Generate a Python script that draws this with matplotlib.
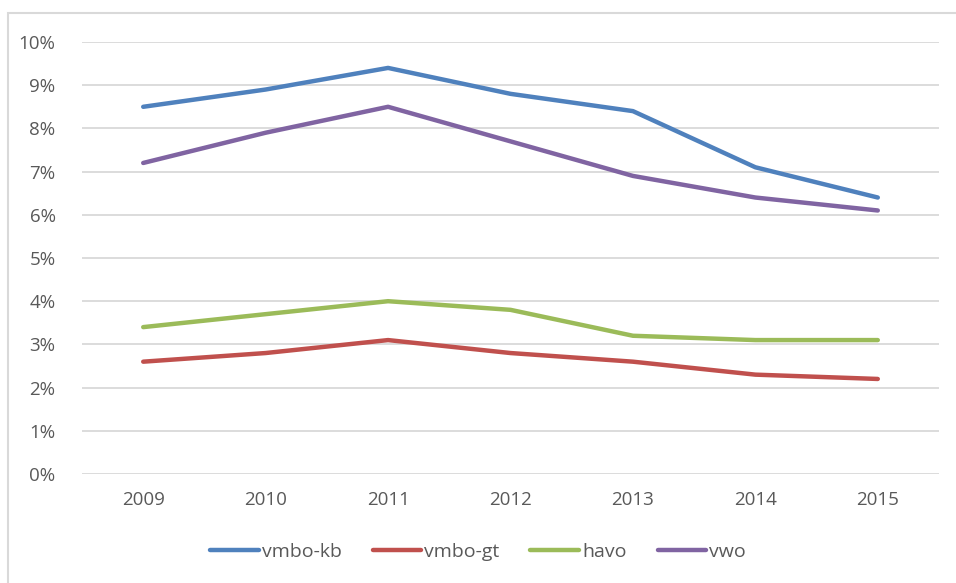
import matplotlib.pyplot as plt
import matplotlib.patches as patches
from matplotlib.ticker import FuncFormatter

years = ['2009', '2010', '2011', '2012', '2013', '2014', '2015']
vmbo_kb = [8.5, 8.9, 9.4, 8.8, 8.4, 7.1, 6.4]
vmbo_gt = [2.6, 2.8, 3.1, 2.8, 2.6, 2.3, 2.2]
havo = [3.4, 3.7, 4.0, 3.8, 3.2, 3.1, 3.1]
vwo = [7.2, 7.9, 8.5, 7.7, 6.9, 6.4, 6.1]

plt.rcParams['font.family'] = ['Open Sans', 'DejaVu Sans']
txt = '#595959'

fig = plt.figure(figsize=(9.56, 5.83), dpi=100)
ax = fig.add_axes([82/956, 1 - 474/583, (939 - 82)/956, (474 - 42)/583])

# light frame around the chart area
fig.patches.append(patches.Rectangle((8/956, -0.05), 1.1, 1 - 13/583 + 0.05,
                                     transform=fig.transFigure, fill=False,
                                     edgecolor='#d9d9d9', linewidth=1.5))

x = range(len(years))
series = [(vmbo_kb, '#4F81BD', 'vmbo-kb'),
          (vmbo_gt, '#C0504D', 'vmbo-gt'),
          (havo, '#9BBB59', 'havo'),
          (vwo, '#8064A2', 'vwo')]
for vals, col, name in series:
    ax.plot(x, vals, color=col, linewidth=3.2, solid_capstyle='round', label=name)

ax.set_xlim(-0.5, len(years) - 0.5)
ax.set_ylim(0, 10)
ax.set_yticks(range(0, 11))
ax.yaxis.set_major_formatter(FuncFormatter(lambda v, p: f'{int(v)}%'))
ax.set_xticks(list(x))
ax.set_xticklabels(years)
ax.grid(axis='y', color='#d9d9d9', linewidth=1.3)
ax.set_axisbelow(True)
for s in ax.spines.values():
    s.set_visible(False)
ax.tick_params(length=0, labelsize=13.5, colors=txt, pad=12)
ax.tick_params(axis='y', pad=19)

fig.legend(loc='center', bbox_to_anchor=(0.5, 1 - 552/583), ncol=4, frameon=False,
           fontsize=14, labelcolor=txt, handlelength=2.5, handletextpad=0.15,
           columnspacing=1.6)

fig.savefig('out.png', dpi=100)
